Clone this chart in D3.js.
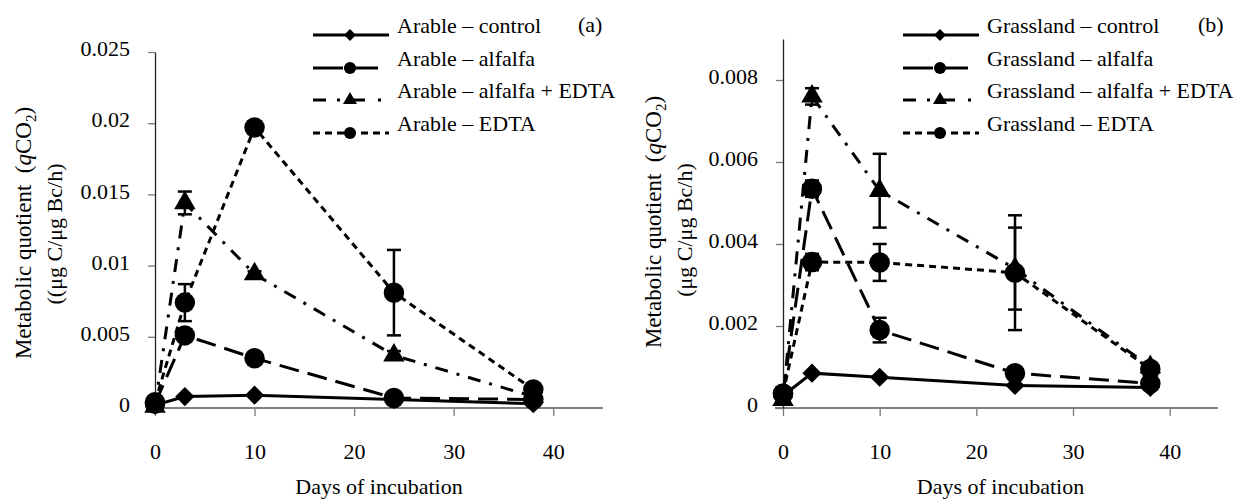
<!DOCTYPE html>
<html>
<head>
<meta charset="utf-8">
<script src="https://cdn.jsdelivr.net/npm/d3@7"></script>
<style>
  body { margin: 0; background: #fff; }
  svg text { font-family: "Liberation Serif", "Times New Roman", serif; fill: #000; }
</style>
</head>
<body>
<svg id="chart" width="1235" height="499"></svg>
<script>
// days sampled
const days = [0, 3, 10, 24, 38];
const xTicks = [0, 10, 20, 30, 40];
const treatments = ["control", "alfalfa", "alfalfa + EDTA", "EDTA"];

// (a) arable soil
const arableControl = [0.0002, 0.0008, 0.0009, 0.0006, 0.0003];
const arableAlfalfa = [0.0003, 0.0051, 0.0035, 0.0007, 0.0006];
const arableAlfEdta = [0.0001, 0.0144, 0.0094, 0.0037, 0.0008];
const arableEdta = [0.0004, 0.0074, 0.0197, 0.0081, 0.0013];
const arableControlErr = [0, 0, 0, 0, 0];
const arableAlfalfaErr = [0, 0.0003, 0.0003, 0.0001, 0.0001];
const arableAlfEdtaErr = [0, 0.0008, 0.0002, 0.0003, 0.0001];
const arableEdtaErr = [0, 0.0013, 0.0002, 0.003, 0.0002];
const arableYTicks = [0, 0.005, 0.01, 0.015, 0.02, 0.025];

// (b) grassland soil
const grassControl = [0.0003, 0.00085, 0.00075, 0.00055, 0.0005];
const grassAlfalfa = [0.00035, 0.00535, 0.0019, 0.00085, 0.0006];
const grassAlfEdta = [0.0002, 0.0076, 0.0053, 0.0034, 0.001];
const grassEdta = [0.00035, 0.00356, 0.00355, 0.0033, 0.00095];
const grassControlErr = [0, 0, 0, 0, 0];
const grassAlfalfaErr = [0, 0.0002, 0.0003, 0.0001, 0.0001];
const grassAlfEdtaErr = [0, 0.0002, 0.0009, 0.001, 0.0001];
const grassEdtaErr = [0, 0.0002, 0.00045, 0.0014, 0.0001];
const grassYTicks = [0, 0.002, 0.004, 0.006, 0.008];

// line look per treatment (legDash = how the short legend sample is cut)
const styles = [
  {dash: null, legDash: null, shape: "diamond", legEnd: 76},
  {dash: "20,9", legDash: "30,10,25", shape: "circle", legEnd: 65},
  {dash: "13,9,3,9", legDash: "13,11,3,7,18,13,3", shape: "triangle", legEnd: 68},
  {dash: "7,5", legDash: "7,5", shape: "circle", legEnd: 76}
];

const svg = d3.select("#chart");

function symbolPath(shape, big) {
  if (shape === "circle") return d3.symbol(d3.symbolCircle, big ? 330 : 115)();
  if (shape === "triangle") return d3.symbol(d3.symbolTriangle, big ? 200 : 85)();
  return d3.symbol(d3.symbolSquare, big ? 185 : 70)();
}

function drawPanel(p) {
  const g = svg.append("g");
  const x = d3.scaleLinear().domain([0, 45]).range(p.xRange);
  const y = d3.scaleLinear().domain([0, p.yMax]).range([408, p.yTop]);

  // x axis
  const xAxis = g.append("g")
    .attr("transform", "translate(0,408)")
    .call(d3.axisBottom(x).tickValues(xTicks).tickSize(8).tickSizeOuter(0).tickFormat(d3.format("d")));
  xAxis.select(".domain").remove();
  xAxis.selectAll(".tick line").attr("stroke", "#777").attr("stroke-width", 1.3);
  xAxis.selectAll(".tick text")
    .attr("y", 51).attr("dy", 0)
    .style("font-size", "22px");
  g.append("line")
    .attr("x1", x(0) - 8).attr("x2", x(45))
    .attr("y1", 408).attr("y2", 408)
    .attr("stroke", "#808080").attr("stroke-width", 2);

  // y axis
  const yAxis = g.append("g")
    .attr("transform", "translate(" + x(0) + ",0)")
    .call(d3.axisLeft(y).tickValues(p.yTicks).tickSize(7).tickSizeOuter(0).tickPadding(18)
      .tickFormat(d => d === 0 ? "0" : String(+d.toFixed(3))));
  yAxis.select(".domain").attr("stroke", "#222").attr("stroke-width", 1.3);
  yAxis.selectAll(".tick line").attr("stroke", "#777").attr("stroke-width", 1.3);
  yAxis.selectAll(".tick text").attr("dy", "0.17em").style("font-size", "22px");

  // axis titles
  g.append("text")
    .attr("x", (p.xRange[0] + p.xRange[1]) / 2).attr("y", 494)
    .attr("text-anchor", "middle").style("font-size", "22px")
    .text("Days of incubation");

  const t1 = g.append("text")
    .attr("transform", "translate(" + p.lab1[0] + "," + p.lab1[1] + ") rotate(-90)")
    .attr("text-anchor", "middle")
    .style("font-size", "23px");
  t1.append("tspan").text("Metabolic quotient\u00a0\u00a0(");
  t1.append("tspan").style("font-style", "italic").text("q");
  t1.append("tspan").text("CO");
  t1.append("tspan").attr("dy", 5).style("font-size", "15px").text("2");
  t1.append("tspan").attr("dy", -5).text(")");

  g.append("text")
    .attr("transform", "translate(" + p.lab2[0] + "," + p.lab2[1] + ") rotate(-90)")
    .attr("text-anchor", "middle")
    .style("font-size", "22px")
    .text(p.unitText);

  const line = d3.line().x((d, i) => x(days[i])).y(d => y(d));

  // series lines
  p.series.forEach((s, k) => {
    g.append("path")
      .attr("d", line(s.values))
      .attr("fill", "none")
      .attr("stroke", "#000")
      .attr("stroke-width", 3)
      .attr("stroke-dasharray", styles[k].dash);
  });

  // error bars
  p.series.forEach(s => {
    s.values.forEach((v, i) => {
      const e = s.err[i];
      if (!e) return;
      const cx = x(days[i]);
      g.append("line").attr("x1", cx).attr("x2", cx)
        .attr("y1", y(v + e)).attr("y2", y(v - e))
        .attr("stroke", "#000").attr("stroke-width", 2.5);
      [v + e, v - e].forEach(w => {
        g.append("line").attr("x1", cx - 7).attr("x2", cx + 7)
          .attr("y1", y(w)).attr("y2", y(w))
          .attr("stroke", "#000").attr("stroke-width", 2.5);
      });
    });
  });

  // markers
  p.series.forEach((s, k) => {
    g.selectAll(null).data(s.values).enter().append("path")
      .attr("d", symbolPath(styles[k].shape, true))
      .attr("transform", (d, i) => "translate(" + x(days[i]) + "," + y(d) + ")" +
        (styles[k].shape === "diamond" ? " rotate(45)" : ""))
      .attr("fill", "#000");
  });

  // legend
  const rowY = [35, 68, 100, 133];
  treatments.forEach((name, k) => {
    const lx = p.legendX;
    const ly = rowY[k];
    g.append("line")
      .attr("x1", lx).attr("x2", lx + styles[k].legEnd)
      .attr("y1", ly).attr("y2", ly)
      .attr("stroke", "#000").attr("stroke-width", 3)
      .attr("stroke-dasharray", styles[k].legDash);
    g.append("path")
      .attr("d", symbolPath(styles[k].shape, false))
      .attr("transform", "translate(" + (lx + 37) + "," + ly + ")" +
        (styles[k].shape === "diamond" ? " rotate(45)" : ""))
      .attr("fill", "#000");
    g.append("text")
      .attr("x", lx + 84).attr("y", ly - 2)
      .style("font-size", "22px")
      .text(p.site + " \u2013 " + name);
  });

  g.append("text")
    .attr("x", p.tag[0]).attr("y", p.tag[1])
    .style("font-size", "22px")
    .text(p.tagText);
}

drawPanel({
  xRange: [155, 603], yMax: 0.025, yTop: 52, yTicks: arableYTicks,
  lab1: [31, 233], lab2: [62, 234], unitText: "((\u03bcg C/\u03bcg Bc/h)",
  site: "Arable", legendX: 313, tag: [578, 32], tagText: "(a)",
  series: [
    {values: arableControl, err: arableControlErr},
    {values: arableAlfalfa, err: arableAlfalfaErr},
    {values: arableAlfEdta, err: arableAlfEdtaErr},
    {values: arableEdta, err: arableEdtaErr}
  ]
});

drawPanel({
  xRange: [783, 1218], yMax: 0.009, yTop: 39, yTicks: grassYTicks,
  lab1: [661, 222], lab2: [692, 230], unitText: "(\u03bcg C/\u03bcg Bc/h)",
  site: "Grassland", legendX: 903, tag: [1198, 32], tagText: "(b)",
  series: [
    {values: grassControl, err: grassControlErr},
    {values: grassAlfalfa, err: grassAlfalfaErr},
    {values: grassAlfEdta, err: grassAlfEdtaErr},
    {values: grassEdta, err: grassEdtaErr}
  ]
});
</script>
</body>
</html>
